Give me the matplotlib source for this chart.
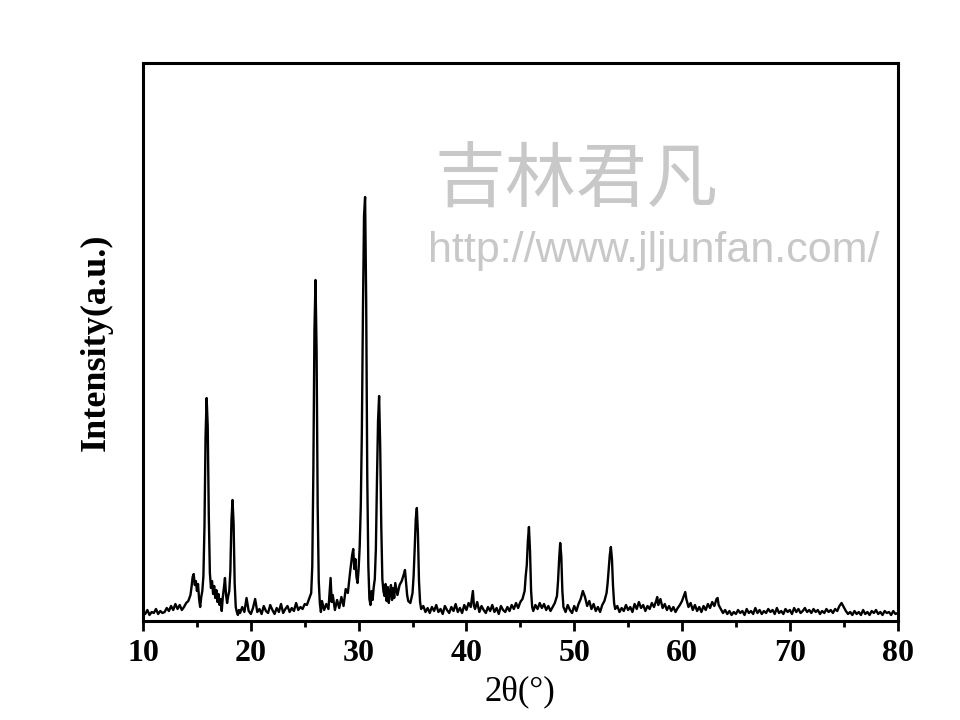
import matplotlib
matplotlib.use('Agg')
import matplotlib.pyplot as plt
from matplotlib.ticker import MultipleLocator

# XRD pattern, split into four 2theta ranges
# (intensity in arbitrary units, same scale as the plot height)
tt_a = [10.0, 10.2, 10.4, 10.6, 10.8, 11.0, 11.2, 11.4, 11.6, 11.8, 12.0, 12.2, 12.4, 12.6, 12.8,
        13.0, 13.2, 13.4, 13.6, 13.8, 14.0, 14.2, 14.4, 14.5, 14.6, 14.7, 14.8, 14.9, 15.0, 15.1,
        15.2, 15.3, 15.4, 15.5, 15.6, 15.7, 15.8, 15.9, 16.0, 16.1, 16.2, 16.3, 16.4, 16.5, 16.6,
        16.7, 16.8, 16.9, 17.0, 17.1, 17.2, 17.3, 17.4, 17.5, 17.6, 17.7, 17.8, 17.9, 18.0, 18.1,
        18.2, 18.3, 18.4, 18.5, 18.6, 18.7, 18.8, 18.9, 19.0, 19.2, 19.4, 19.6, 19.8, 20.0, 20.2,
        20.4, 20.6, 20.8, 21.0, 21.2, 21.4, 21.6, 21.8, 22.0, 22.2, 22.4, 22.6, 22.8, 23.0, 23.2,
        23.4, 23.6, 23.8, 24.0, 24.2, 24.4, 24.6, 24.8, 25.0]
int_a = [9, 7, 11, 6, 9, 8, 12, 7, 10, 8, 9, 13, 10, 15, 11,
         17, 12, 16, 11, 14, 18, 20, 26, 34, 44, 47, 36, 40, 30, 37,
         22, 14, 24, 30, 45, 95, 185, 223, 195, 105, 48, 33, 40, 27, 35,
         23, 31, 19, 27, 16, 22, 10, 24, 33, 43, 26, 18, 25, 30, 50,
         100, 121, 98, 38, 14, 9, 6, 11, 8, 14, 9, 23, 10, 7, 13,
         22, 9, 12, 7, 15, 10, 8, 16, 11, 7, 13, 9, 17, 8, 12,
         15, 9, 13, 10, 18, 11, 14, 12, 17]

tt_b = [25.2, 25.4, 25.6, 25.7, 25.8, 25.9, 26.0, 26.1, 26.2, 26.3, 26.4, 26.5, 26.6, 26.8, 27.0,
        27.2, 27.4, 27.5, 27.6, 27.8, 28.0, 28.2, 28.4, 28.6, 28.8, 29.0, 29.2, 29.4, 29.5, 29.6,
        29.7, 29.8, 29.9, 30.0, 30.1, 30.2, 30.3, 30.4, 30.5, 30.6, 30.7, 30.8, 30.9, 31.0, 31.1,
        31.2, 31.3, 31.4, 31.5, 31.6, 31.7, 31.8, 31.9, 32.0, 32.1, 32.2, 32.3, 32.4, 32.5, 32.6,
        32.7, 32.8, 32.9, 33.0, 33.1, 33.2, 33.3, 33.4, 33.6, 33.8, 34.0, 34.2, 34.3, 34.4, 34.5,
        34.6, 34.8, 35.0, 35.1, 35.2, 35.3, 35.4, 35.5, 35.6, 35.7, 35.8, 36.0, 36.2]
int_b = [16, 22, 28, 55, 150, 290, 341, 270, 115, 40, 18, 9, 20, 11, 17,
         12, 43, 19, 26, 11, 21, 13, 24, 15, 32, 28, 48, 66, 72, 52,
         62, 44, 38, 52, 75, 115, 190, 310, 405, 424, 320, 145, 55, 22, 16,
         30, 21, 34, 42, 72, 140, 200, 225, 175, 95, 42, 30, 25, 37, 20,
         34, 18, 29, 36, 21, 33, 23, 38, 26, 36, 40, 47, 51, 38, 26,
         20, 18, 28, 45, 72, 102, 113, 88, 40, 19, 12, 15, 9]

tt_c = [36.4, 36.6, 36.8, 37.0, 37.2, 37.4, 37.6, 37.8, 38.0, 38.2, 38.4, 38.6, 38.8, 39.0, 39.2,
        39.4, 39.6, 39.8, 40.0, 40.2, 40.4, 40.5, 40.6, 40.7, 40.8, 41.0, 41.2, 41.4, 41.6, 41.8,
        42.0, 42.2, 42.4, 42.6, 42.8, 43.0, 43.2, 43.4, 43.6, 43.8, 44.0, 44.2, 44.4, 44.6, 44.8,
        45.0, 45.2, 45.4, 45.5, 45.6, 45.7, 45.8, 45.9, 46.0, 46.1, 46.2, 46.4, 46.6, 46.8, 47.0,
        47.2, 47.4, 47.6, 47.8, 48.0, 48.2, 48.4, 48.5, 48.6, 48.7, 48.8, 48.9, 49.0, 49.2, 49.4,
        49.6, 49.8, 50.0, 50.2, 50.4, 50.6, 50.8, 50.9, 51.0, 51.2, 51.4, 51.6, 51.8, 52.0, 52.2,
        52.4, 52.6, 52.8, 53.0, 53.1, 53.2, 53.3, 53.4, 53.5, 53.6, 53.7, 53.8, 54.0, 54.2, 54.4,
        54.6, 54.8, 55.0]
int_c = [13, 8, 14, 10, 16, 9, 12, 7, 15, 11, 8, 14, 10, 17, 9,
         13, 8, 16, 11, 18, 14, 22, 30, 15, 12, 19, 9, 15, 11, 8,
         14, 10, 16, 9, 13, 7, 15, 11, 9, 14, 10, 16, 12, 18, 13,
         19, 22, 30, 45, 56, 80, 94, 70, 30, 14, 10, 16, 12, 18, 13,
         17, 11, 15, 10, 14, 18, 25, 40, 62, 78, 65, 30, 14, 9, 16,
         11, 8, 15, 10, 17, 22, 30, 27, 24, 15, 20, 12, 17, 10, 14,
         9, 16, 20, 28, 38, 52, 66, 74, 62, 35, 18, 12, 15, 9, 13,
         10, 16, 11]

tt_d = [55.2, 55.4, 55.6, 55.8, 56.0, 56.2, 56.4, 56.6, 56.8, 57.0, 57.2, 57.4, 57.6, 57.7, 57.8,
        58.0, 58.2, 58.4, 58.6, 58.8, 59.0, 59.2, 59.4, 59.6, 59.8, 60.0, 60.2, 60.3, 60.4, 60.6,
        60.8, 61.0, 61.2, 61.4, 61.6, 61.8, 62.0, 62.2, 62.4, 62.6, 62.8, 63.0, 63.2, 63.3, 63.4,
        63.6, 63.8, 64.0, 64.2, 64.4, 64.6, 64.8, 65.0, 65.2, 65.4, 65.6, 65.8, 66.0, 66.2, 66.4,
        66.6, 66.8, 67.0, 67.2, 67.4, 67.6, 67.8, 68.0, 68.2, 68.4, 68.6, 68.8, 69.0, 69.2, 69.4,
        69.6, 69.8, 70.0, 70.2, 70.4, 70.6, 70.8, 71.0, 71.2, 71.4, 71.6, 71.8, 72.0, 72.2, 72.4,
        72.6, 72.8, 73.0, 73.2, 73.4, 73.6, 73.8, 74.0, 74.2, 74.4, 74.6, 74.8, 75.0, 75.2, 75.4,
        75.6, 75.8, 76.0, 76.2, 76.4, 76.6, 76.8, 77.0, 77.2, 77.4, 77.6, 77.8, 78.0, 78.2, 78.4,
        78.6, 78.8, 79.0, 79.2, 79.4, 79.6, 79.8, 80.0]
int_d = [14, 9, 17, 12, 19, 13, 16, 10, 15, 12, 18, 14, 20, 24, 16,
         22, 13, 17, 11, 15, 10, 14, 9, 13, 16, 20, 26, 29, 22, 14,
         18, 11, 16, 10, 14, 9, 15, 11, 17, 13, 19, 15, 22, 23, 16,
         12, 8, 11, 7, 10, 6, 9, 7, 11, 8, 10, 6, 12, 8, 10,
         7, 13, 8, 11, 7, 10, 8, 12, 9, 11, 7, 13, 8, 10, 7,
         12, 9, 11, 7, 13, 9, 12, 8, 10, 13, 9, 11, 8, 12, 9,
         11, 7, 10, 8, 12, 9, 11, 8, 12, 10, 15, 18, 14, 10, 7,
         9, 6, 10, 7, 9, 6, 11, 7, 9, 6, 10, 8, 11, 7, 9,
         6, 10, 8, 9, 6, 10, 7, 8]

two_theta = tt_a + tt_b + tt_c + tt_d
intensity = int_a + int_b + int_c + int_d

xticks = [10, 20, 30, 40, 50, 60, 70, 80]

fig = plt.figure(figsize=(9.6, 7.2), dpi=100)
ax = fig.add_axes([0.149, 0.1375, 0.786, 0.775])
ax.plot(two_theta, intensity, color='black', lw=1.7)

ax.set_xlim(10, 80)
ax.set_ylim(0, 558)
ax.set_xticks(xticks)
ax.xaxis.set_minor_locator(MultipleLocator(5))
ax.set_yticks([])
ax.tick_params(axis='x', which='major', direction='out', length=7, width=2, pad=6)
ax.tick_params(axis='x', which='minor', direction='out', length=4, width=2)
for s in ax.spines.values():
    s.set_linewidth(2.2)

for lab in ax.get_xticklabels():
    lab.set_family('Liberation Serif')
    lab.set_fontweight('bold')
    lab.set_fontsize(23)

ax.set_xlabel('2θ(°)', family='Liberation Serif', fontsize=25, labelpad=5)
ax.set_ylabel('Intensity(a.u.)', family='Liberation Serif', fontweight='bold',
              fontsize=26, labelpad=22)

# watermark
fig.text(0.600, 0.749, '吉林君凡', family=['Noto Sans CJK SC', 'DejaVu Sans'],
         fontsize=51, color='#c8c8c8', ha='center', va='center')
fig.text(0.681, 0.651, 'http://www.jljunfan.com/', family='Liberation Sans',
         fontsize=31, color='#c8c8c8', ha='center', va='center')

fig.savefig('out.png', dpi=100)
